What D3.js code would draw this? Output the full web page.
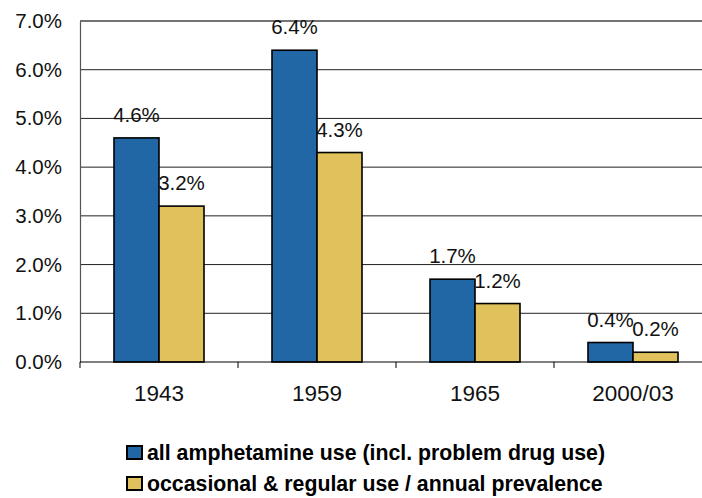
<!DOCTYPE html>
<html><head><meta charset="utf-8">
<script src="https://cdn.jsdelivr.net/npm/d3@7"></script>
<style>body{margin:0;background:#fff}svg{display:block}</style>
</head><body>
<svg id="c" width="702" height="498"></svg>
<script>
const categories = ["1943", "1959", "1965", "2000/03"];
const seriesNames = ["all amphetamine use (incl. problem drug use)", "occasional & regular use / annual prevalence"];
const seriesAll = [4.6, 6.4, 1.7, 0.4];
const seriesOcc = [3.2, 4.3, 1.2, 0.2];
const yTicks = [0, 1, 2, 3, 4, 5, 6, 7];
const colors = ["#2166A5", "#E1C15B"];

(function () {
const svg = d3.select("#c");
const mLeft = 80, mTop = 21, mBottom = 362, mRight = 712;
const x = d3.scaleBand().domain(categories).range([mLeft, mRight]).paddingInner(0).paddingOuter(0);
const y = d3.scaleLinear().domain([0, 7]).range([mBottom, mTop]);
const bw = 45;
const font = "Liberation Sans, Arial, sans-serif";

// gridlines
svg.append("g").selectAll("line").data(yTicks.filter(d => d > 0)).join("line")
  .attr("x1", mLeft).attr("x2", 702).attr("y1", d => y(d)).attr("y2", d => y(d))
  .attr("stroke", d => d === 7 ? "#444" : "#222").attr("stroke-width", d => d === 7 ? 1.4 : 1);

// y axis
const ya = d3.axisLeft(y).tickValues(yTicks).tickFormat(d => d.toFixed(1) + "%").tickSize(0).tickPadding(18);
const gy = svg.append("g").attr("transform", `translate(${mLeft},0)`).call(ya);
gy.select(".domain").attr("stroke", "#555").attr("stroke-width", 1.2);
gy.selectAll("text").attr("font-family", font).attr("font-size", 20.5).attr("fill", "#111");

// bars
const data = categories.map((c, i) => ({c, v: [seriesAll[i], seriesOcc[i]]}));
const g = svg.append("g");
data.forEach(d => {
  const cx = x(d.c) + x.bandwidth() / 2;
  d.v.forEach((v, j) => {
    const x0 = cx - bw + j * bw;
    g.append("rect").attr("x", x0).attr("y", y(v)).attr("width", bw).attr("height", y(0) - y(v))
      .attr("fill", colors[j]).attr("stroke", "#000").attr("stroke-width", 1.6);
  });
});
data.forEach(d => {
  const cx = x(d.c) + x.bandwidth() / 2;
  d.v.forEach((v, j) => {
    const x0 = cx - bw + j * bw;
    g.append("text").attr("x", x0 + bw / 2).attr("y", y(v) - 16).attr("text-anchor", "middle")
      .attr("font-family", font).attr("font-size", 20.5).attr("fill", "#111").text(v.toFixed(1) + "%");
  });
});

// x axis
const xa = d3.axisBottom(x).tickSize(0).tickPadding(23);
const gx = svg.append("g").attr("transform", `translate(0,${mBottom})`).call(xa);
gx.select(".domain").remove();
gx.append("line").attr("x1", mLeft).attr("x2", 702).attr("y1", 0).attr("y2", 0).attr("stroke", "#000").attr("stroke-width", 1.2);
gx.selectAll("text").attr("font-family", font).attr("font-size", 22.5).attr("fill", "#111");
gx.selectAll(".sep").data(categories.map(c => x(c)).concat([mRight])).join("line").attr("class", "sep")
  .attr("x1", d => d).attr("x2", d => d).attr("y1", 0).attr("y2", 6).attr("stroke", "#000");

// legend
const lg = svg.append("g");
seriesNames.forEach((n, i) => {
  const base = 460 + i * 31;
  lg.append("rect").attr("x", 127).attr("y", base - 14).attr("width", 15).attr("height", 13)
    .attr("fill", colors[i]).attr("stroke", "#000").attr("stroke-width", 2);
  lg.append("text").attr("x", 147).attr("y", base).attr("font-family", font).attr("font-weight", "bold")
    .attr("font-size", 21.3).attr("fill", "#000").text(n);
});
})();
</script>
</body></html>
